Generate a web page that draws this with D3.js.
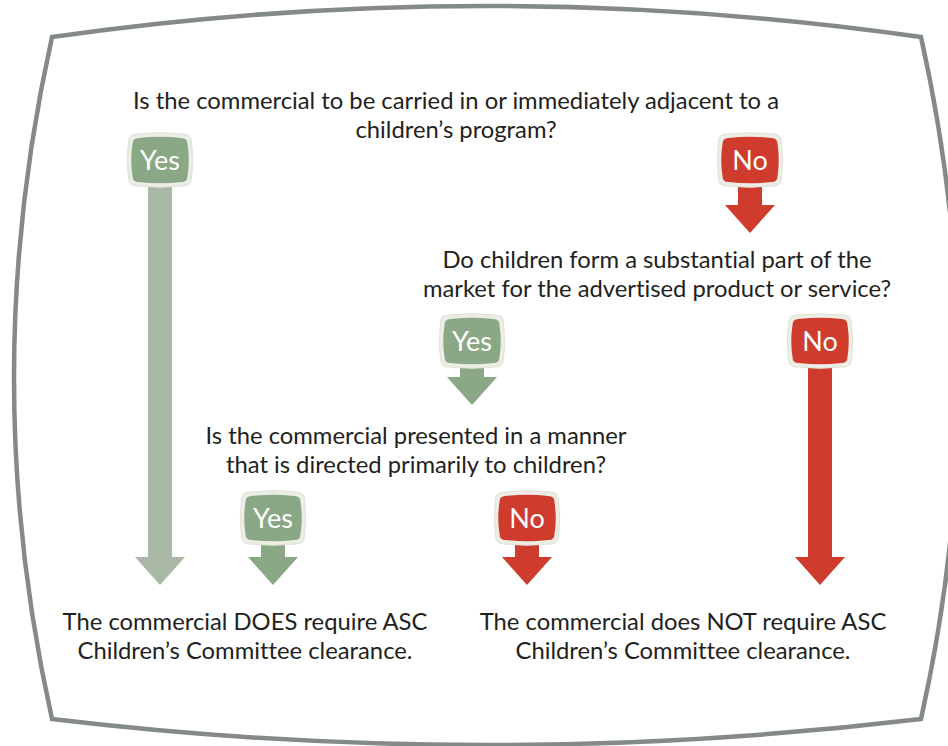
<!DOCTYPE html>
<html>
<head>
<meta charset="utf-8">
<script src="https://cdn.jsdelivr.net/npm/d3@7/dist/d3.min.js"></script>
<style>
  html, body { margin: 0; padding: 0; background: #ffffff; }
  svg { display: block; }
  text { font-family: "Lato", "Open Sans", sans-serif; font-variant-ligatures: none; }
</style>
</head>
<body>
<svg id="chart" width="948" height="746"></svg>
<script>
// ---------- data ----------
const questionIds = ["q1", "q2", "q3"];
const questionLines = [
  ["Is the commercial to be carried in or immediately adjacent to a", "children’s program?"],
  ["Do children form a substantial part of the", "market for the advertised product or service?"],
  ["Is the commercial presented in a manner", "that is directed primarily to children?"]
];
const outcomeIds = ["r1", "r2"];
const outcomeLines = [
  ["The commercial DOES require ASC", "Children’s Committee clearance."],
  ["The commercial does NOT require ASC", "Children’s Committee clearance."]
];
// answers: label, from question, to (question or outcome)
const answerLabels = ["Yes", "No", "Yes", "No", "Yes", "No"];
const answerFrom   = ["q1", "q1", "q2", "q2", "q3", "q3"];
const answerTo     = ["r1", "q2", "q3", "r2", "r1", "r2"];

// ---------- layout (pixels, not data) ----------
const W = 948, H = 746;
const svg = d3.select("#chart");
const colors = { Yes: "#8ba886", No: "#cf3c2d", YesLong: "#a9b9a5", text: "#231f20", frame: "#848a87" };

const nodePos = {
  q1: { x: 456, y: 109 },
  q2: { x: 657, y: 268 },
  q3: { x: 416, y: 444 },
  r1: { x: 245, y: 630 },
  r2: { x: 683, y: 630 }
};
const badgePos = [
  { x: 160, y: 160 }, { x: 750, y: 160 },
  { x: 472, y: 341 }, { x: 820, y: 341 },
  { x: 273, y: 518 }, { x: 527, y: 518 }
];
const lineGap = 29;
const arrowEndY = { q2: 233, q3: 405, r1: 585, r2: 585 };

// ---------- frame ----------
const fx0 = 52, fx1 = 921, fy0 = 37, fy1 = 719, fmid = (fx0 + fx1) / 2;
const framePath = d3.path();
framePath.moveTo(fx0, fy0);
framePath.quadraticCurveTo(fmid, -25, fx1, fy0);
framePath.quadraticCurveTo(997, (fy0 + fy1) / 2, fx1, fy1);
framePath.quadraticCurveTo(fmid, 771, fx0, fy1);
framePath.quadraticCurveTo(-24, (fy0 + fy1) / 2, fx0, fy0);
framePath.closePath();
svg.append("path")
  .attr("d", framePath.toString())
  .attr("fill", "none")
  .attr("stroke", colors.frame)
  .attr("stroke-width", 4.5)
  .attr("stroke-linejoin", "miter");

// ---------- arrows ----------
function arrowPath(cx, y0, y1, shaftW, headW, headL) {
  const p = d3.path();
  const hs = shaftW / 2, hh = headW / 2;
  p.moveTo(cx - hs, y0);
  p.lineTo(cx + hs, y0);
  p.lineTo(cx + hs, y1 - headL);
  p.lineTo(cx + hh, y1 - headL);
  p.lineTo(cx, y1);
  p.lineTo(cx - hh, y1 - headL);
  p.lineTo(cx - hs, y1 - headL);
  p.closePath();
  return p.toString();
}

const answers = answerLabels.map((lab, i) => ({
  label: lab, from: answerFrom[i], to: answerTo[i], pos: badgePos[i]
}));

svg.append("g").selectAll("path")
  .data(answers)
  .join("path")
  .attr("d", d => arrowPath(d.pos.x, d.pos.y + 20, arrowEndY[d.to], 24, 50, 28))
  .attr("fill", (d, i) => (i === 0 ? colors.YesLong : colors[d.label]));

// ---------- badges ----------
function badgeShape(w, h, r, b) {
  const p = d3.path();
  const x0 = -w / 2, x1 = w / 2, y0 = -h / 2, y1 = h / 2;
  p.moveTo(x0 + r, y0);
  p.quadraticCurveTo(0, y0 - b, x1 - r, y0);
  p.quadraticCurveTo(x1, y0, x1, y0 + r);
  p.quadraticCurveTo(x1 + b, 0, x1, y1 - r);
  p.quadraticCurveTo(x1, y1, x1 - r, y1);
  p.quadraticCurveTo(0, y1 + b, x0 + r, y1);
  p.quadraticCurveTo(x0, y1, x0, y1 - r);
  p.quadraticCurveTo(x0 - b, 0, x0, y0 + r);
  p.quadraticCurveTo(x0, y0, x0 + r, y0);
  p.closePath();
  return p.toString();
}

const badges = svg.append("g").selectAll("g")
  .data(answers)
  .join("g")
  .attr("transform", d => `translate(${d.pos.x},${d.pos.y})`);

badges.append("path")
  .attr("d", badgeShape(63, 52, 8, 2.5))
  .attr("fill", "#eceee6")
  .attr("stroke", "#dfe3d8")
  .attr("stroke-width", 1);
badges.append("path")
  .attr("d", badgeShape(55, 44, 6, 2.5))
  .attr("fill", d => colors[d.label]);
badges.append("text")
  .attr("text-anchor", "middle")
  .attr("y", 9.5)
  .attr("fill", "#ffffff")
  .style("font-size", "27px")
  .text(d => d.label);

// ---------- texts ----------
const textBlocks = questionIds.map((id, i) => ({ id, lines: questionLines[i] }))
  .concat(outcomeIds.map((id, i) => ({ id, lines: outcomeLines[i] })));

const tg = svg.append("g").selectAll("text")
  .data(textBlocks)
  .join("text")
  .attr("text-anchor", "middle")
  .attr("fill", colors.text)
  .style("font-size", "23.8px");

tg.selectAll("tspan")
  .data(d => d.lines.map((l, k) => ({ l, k, id: d.id })))
  .join("tspan")
  .attr("x", d => nodePos[d.id].x)
  .attr("y", d => nodePos[d.id].y + d.k * lineGap)
  .text(d => d.l);
</script>
</body>
</html>
